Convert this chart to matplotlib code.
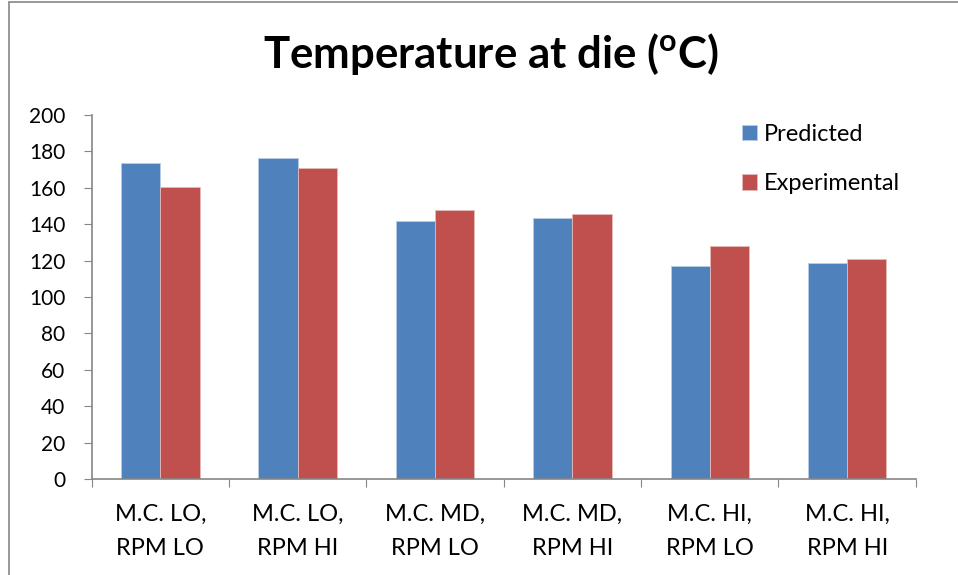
import matplotlib
matplotlib.use("Agg")
import matplotlib.pyplot as plt
import numpy as np
from matplotlib.patches import Rectangle

# Valores do gráfico
categorias = ["M.C. LO,\nRPM LO", "M.C. LO,\nRPM HI", "M.C. MD,\nRPM LO",
              "M.C. MD,\nRPM HI", "M.C. HI,\nRPM LO", "M.C. HI,\nRPM HI"]
previsto = [173.5, 176.2, 141.8, 143.4, 117.0, 118.5]
experimental = [160.5, 170.7, 147.6, 145.4, 127.8, 120.9]
y_ticks = [0, 20, 40, 60, 80, 100, 120, 140, 160, 180, 200]

plt.rcParams['font.family'] = ['Lato', 'DejaVu Sans']
plt.rcParams['mathtext.fontset'] = 'custom'
plt.rcParams['mathtext.bf'] = 'Lato:bold'
plt.rcParams['mathtext.rm'] = 'Lato:bold'
plt.rcParams['mathtext.default'] = 'bf'

cor_eixo = '#868686'
azul = '#4F81BD'
vermelho = '#C0504D'

fig = plt.figure(figsize=(9.58, 5.75), dpi=100)

# Moldura do gráfico (cortada à direita e em baixo)
fig.patches.append(Rectangle((9 / 958, -0.1), 1.2, 1.1 - 2.5 / 575,
                             transform=fig.transFigure, fill=False,
                             edgecolor=cor_eixo, linewidth=1.2))

ax = fig.add_axes([0.0956, 0.167, 0.8604, 0.633])

x = np.arange(len(categorias))
largura = 1 / 3.5
ax.bar(x - largura / 2, previsto, largura, color=azul, label='Predicted',
       edgecolor='#B9CDE5', linewidth=0.6)
ax.bar(x + largura / 2, experimental, largura, color=vermelho, label='Experimental',
       edgecolor='#E6B9B8', linewidth=0.6)

ax.set_xlim(-0.5, len(categorias) - 0.5)
ax.set_ylim(0, 200)
ax.set_yticks(y_ticks)
ax.tick_params(axis='y', labelsize=15, length=5.8, color=cor_eixo, pad=13)

# Marcas do eixo X nas fronteiras entre categorias
ax.set_xticks(np.arange(len(categorias) + 1) - 0.5)
ax.set_xticklabels([])
ax.tick_params(axis='x', length=6, color=cor_eixo)
ax.set_xticks(x, minor=True)
ax.set_xticklabels(categorias, minor=True, fontsize=17, linespacing=1.74)
ax.tick_params(axis='x', which='minor', length=0, pad=18)

for lado in ['top', 'right']:
    ax.spines[lado].set_visible(False)
for lado in ['left', 'bottom']:
    ax.spines[lado].set_color(cor_eixo)
    ax.spines[lado].set_linewidth(1.2)

fig.text(0.512, 1 - 68 / 575, r"Temperature at die ($^{o}$C)", ha='center', va='baseline',
         fontsize=31.5, fontweight='bold')

ax.legend(loc='upper left', bbox_to_anchor=(0.789, 0.975), frameon=False,
          fontsize=17, handlelength=0.62, handleheight=0.62,
          handletextpad=0.3, labelspacing=1.19, borderpad=0, borderaxespad=0)

fig.savefig('out.png', dpi=100)
